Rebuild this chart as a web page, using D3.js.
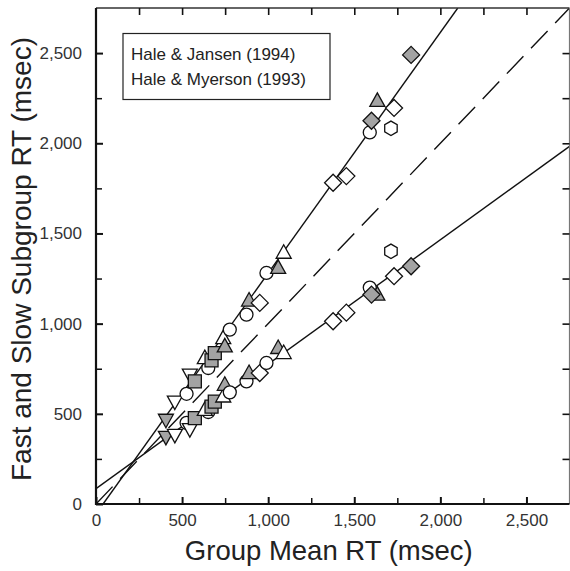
<!DOCTYPE html>
<html><head><meta charset="utf-8">
<script src="https://cdn.jsdelivr.net/npm/d3@7"></script>
<style>body{margin:0;background:#fff}svg{display:block}</style>
</head><body><svg id="c" width="570" height="571"></svg>
<script>
// ---- data ----
const groupMean = [406, 458, 526, 545, 574, 652, 632, 671, 690, 739, 748, 777, 874, 889, 951, 990, 1058, 1090, 1377, 1454, 1590, 1634, 1600, 1713, 1731, 1830];
const slowRT    = [467, 568, 611, 717, 680, 754, 809, 796, 837, 920, 874, 967, 1050, 1128, 1115, 1281, 1309, 1393, 1781, 1818, 2060, 2235, 2125, 2083, 2196, 2490];
const fastRT    = [372, 383, 450, 415, 476, 510, 522, 540, 568, 596, 661, 619, 680, 726, 726, 782, 865, 837, 1013, 1061, 1200, 1161, 1161, 1401, 1263, 1318];
const markerShape = ["triDownGrey","triDownOpen","circle","triDownOpen","squareGrey","circle","triUpOpen","squareGrey","squareGrey","triUpOpen","triUpGrey","circle","circle","triUpGrey","diamondOpen","circle","triUpGrey","triUpOpen","diamondOpen","diamondOpen","circle","triUpGrey","diamondGrey","hexagon","diamondOpen","diamondGrey"];
const fitSlopes = [1.335, 0.69];
const fitIntercepts = [-55, 85];
const xMajorTicks = [0, 500, 1000, 1500, 2000, 2500];
const yMajorTicks = [0, 500, 1000, 1500, 2000, 2500];
const minorTicks = [250, 750, 1250, 1750, 2250];
const legendLines = ["Hale & Jansen (1994)", "Hale & Myerson (1993)"];
const xTitle = "Group Mean RT (msec)";
const yTitle = "Fast and Slow Subgroup RT (msec)";

// ---- layout ----
const L = 96, R = 569.5, T = 8, B = 504;
const svg = d3.select("#c");
const x = d3.scaleLinear().domain([0, 2750]).range([L, R]);
const y = d3.scaleLinear().domain([0, 2750]).range([B, T]);
const fmt = d3.format(",");
const FONT = "'Liberation Sans', Arial, Helvetica, sans-serif";

const plot = svg.append("g");
svg.append("clipPath").attr("id","clip").append("rect")
  .attr("x", L).attr("y", T).attr("width", R - L).attr("height", B - T);

// fit lines
const lg = plot.append("g").attr("clip-path","url(#clip)");
lg.append("line")
  .attr("x1", x(0)).attr("y1", y(0)).attr("x2", x(2750)).attr("y2", y(2750))
  .attr("stroke","#111").attr("stroke-width",1.4).attr("stroke-dasharray","24,11");
fitSlopes.forEach((s,i)=>{
  const b = fitIntercepts[i];
  const x0 = Math.max(0, -b / s);
  const x1 = Math.min(2750, (2750 - b) / s);
  lg.append("line")
    .attr("x1", x(x0)).attr("y1", y(s*x0+b))
    .attr("x2", x(x1)).attr("y2", y(s*x1+b))
    .attr("stroke","#111").attr("stroke-width",1.4);
});

// markers
function shapePath(kind){
  const p = d3.path();
  if (kind.startsWith("circle")) { p.arc(0,0,6.5,0,2*Math.PI); }
  else if (kind.startsWith("square")) { p.rect(-6.5,-6.5,13,13); }
  else if (kind.startsWith("diamond")) { p.moveTo(0,-8.5); p.lineTo(8.5,0); p.lineTo(0,8.5); p.lineTo(-8.5,0); p.closePath(); }
  else if (kind.startsWith("triUp")) { p.moveTo(0,-8); p.lineTo(7.5,5.5); p.lineTo(-7.5,5.5); p.closePath(); }
  else if (kind.startsWith("triDown")) { p.moveTo(0,8); p.lineTo(7.5,-5.5); p.lineTo(-7.5,-5.5); p.closePath(); }
  else if (kind.startsWith("hexagon")) {
    for (let k=0;k<6;k++){ const a = Math.PI/6 + k*Math.PI/3; const px=7.2*Math.cos(a), py=7.2*Math.sin(a); k?p.lineTo(px,py):p.moveTo(px,py);} p.closePath();
  }
  return p.toString();
}
const pts = groupMean.map((g,i)=>({g, slow: slowRT[i], fast: fastRT[i], kind: markerShape[i]}));
const mg = plot.append("g");
["fast","slow"].forEach(key=>{
  mg.selectAll(null).data(pts).enter().append("path")
    .attr("transform", d=>`translate(${x(d.g)},${y(d[key])})`)
    .attr("d", d=>shapePath(d.kind))
    .attr("fill", d=>d.kind.endsWith("Grey") ? "#a3a3a3" : "#fff")
    .attr("stroke","#111").attr("stroke-width",1.3);
});

// frame
svg.append("line").attr("x1",L).attr("x2",R).attr("y1",T).attr("y2",T).attr("stroke","#333").attr("stroke-width",1.3);
svg.append("line").attr("x1",R).attr("x2",R).attr("y1",T).attr("y2",B).attr("stroke","#777").attr("stroke-width",1.2);

// axes
function styleAxis(g){
  g.select(".domain").remove();
  g.selectAll("text").attr("font-family",FONT).attr("font-size",17).attr("fill","#333");
}
const majW = 2, minW = 1.5;
// bottom
svg.append("g").attr("transform",`translate(0,${B})`)
  .call(d3.axisBottom(x).tickValues(xMajorTicks).tickFormat(fmt).tickSizeInner(-7).tickSizeOuter(0).tickPadding(10))
  .call(styleAxis).call(g=>g.selectAll("line").attr("stroke","#111").attr("stroke-width",majW));
svg.append("g").attr("transform",`translate(0,${B})`)
  .call(d3.axisBottom(x).tickValues(minorTicks).tickFormat("").tickSizeInner(-6).tickSizeOuter(0))
  .call(styleAxis).call(g=>g.selectAll("line").attr("stroke","#111").attr("stroke-width",minW));
// left
svg.append("g").attr("transform",`translate(${L},0)`)
  .call(d3.axisLeft(y).tickValues(yMajorTicks).tickFormat(fmt).tickSizeInner(-7).tickSizeOuter(0).tickPadding(14))
  .call(styleAxis).call(g=>g.selectAll("line").attr("stroke","#111").attr("stroke-width",majW));
svg.append("g").attr("transform",`translate(${L},0)`)
  .call(d3.axisLeft(y).tickValues(minorTicks).tickFormat("").tickSizeInner(-6).tickSizeOuter(0))
  .call(styleAxis).call(g=>g.selectAll("line").attr("stroke","#111").attr("stroke-width",minW));
// top
svg.append("g").attr("transform",`translate(0,${T})`)
  .call(d3.axisTop(x).tickValues(xMajorTicks.slice(1).concat(minorTicks)).tickFormat("").tickSizeInner(-7).tickSizeOuter(0))
  .call(styleAxis).call(g=>g.selectAll("line").attr("stroke","#111").attr("stroke-width",1.6));
// right
svg.append("g").attr("transform",`translate(${R},0)`)
  .call(d3.axisRight(y).tickValues(yMajorTicks.slice(1).concat(minorTicks)).tickFormat("").tickSizeInner(-7).tickSizeOuter(0))
  .call(styleAxis).call(g=>g.selectAll("line").attr("stroke","#111").attr("stroke-width",1.6));

// axis lines
svg.append("line").attr("x1",L).attr("x2",L).attr("y1",T).attr("y2",B+1).attr("stroke","#111").attr("stroke-width",2.2);
svg.append("line").attr("x1",L-1).attr("x2",R).attr("y1",B).attr("y2",B).attr("stroke","#111").attr("stroke-width",2.2);

// titles
svg.append("text").attr("x",(L+R)/2 - 4).attr("y",560).attr("text-anchor","middle")
  .attr("font-family",FONT).attr("font-size",27.5).attr("fill","#222").text(xTitle);
svg.append("text").attr("transform",`translate(31,${(T+B)/2 + 3}) rotate(-90)`).attr("text-anchor","middle")
  .attr("font-family",FONT).attr("font-size",28).attr("fill","#222").text(yTitle);

// legend
svg.append("rect").attr("x",123).attr("y",33.5).attr("width",207).attr("height",66)
  .attr("fill","#fff").attr("stroke","#222").attr("stroke-width",1.2);
svg.selectAll(".lgt").data(legendLines).enter().append("text")
  .attr("x",131).attr("y",(d,i)=>60+i*25)
  .attr("font-family",FONT).attr("font-size",17).attr("fill","#222").text(d=>d);
</script></body></html>
